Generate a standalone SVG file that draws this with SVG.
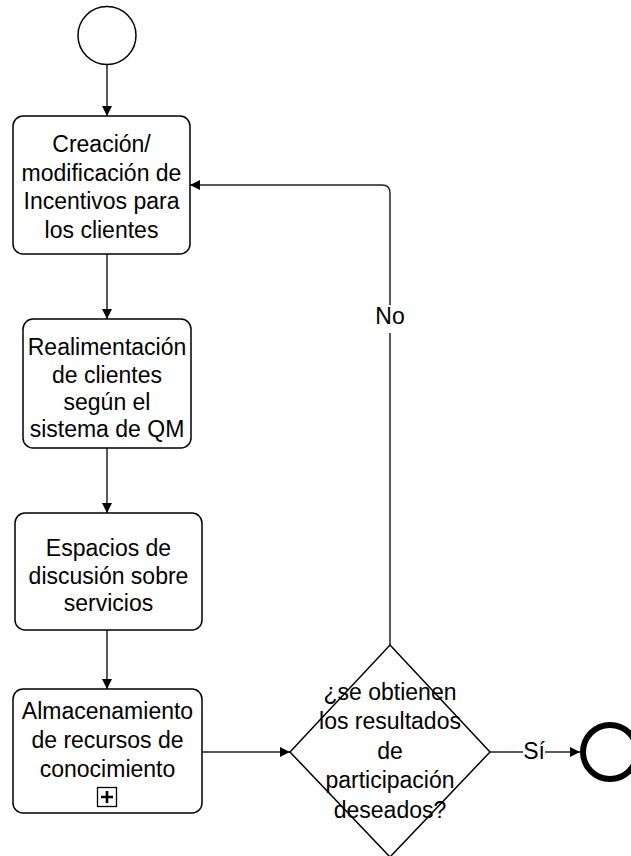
<svg xmlns="http://www.w3.org/2000/svg" width="631" height="856" viewBox="0 0 631 856">
<style>
  .box{fill:#fff;stroke:#000;stroke-width:1.5}
  .t{font-family:"Liberation Sans",Arial,sans-serif;font-size:23px;fill:#000;text-anchor:middle}
  .c{fill:none;stroke:#222;stroke-width:1.5}
  .bg{fill:#fff;stroke:none}
</style>
<defs>
  <marker id="arr" markerUnits="userSpaceOnUse" markerWidth="10" markerHeight="10" refX="10" refY="5" orient="auto">
    <path d="M0,0 L10,5 L0,10 z" fill="#000"/>
  </marker>
</defs>
<rect width="631" height="856" fill="#fff"/>
<g id="connectors">
  <line class="c" x1="107" y1="65" x2="107" y2="116" marker-end="url(#arr)"/>
  <line class="c" x1="107" y1="254" x2="107" y2="319" marker-end="url(#arr)"/>
  <line class="c" x1="107" y1="448" x2="107" y2="513" marker-end="url(#arr)"/>
  <line class="c" x1="107" y1="630" x2="107" y2="689" marker-end="url(#arr)"/>
  <line class="c" x1="202" y1="752" x2="290" y2="752" marker-end="url(#arr)"/>
  <line class="c" x1="490" y1="752" x2="580" y2="752" marker-end="url(#arr)"/>
  <path class="c" d="M390,645 V193 Q390,185 382,185 H190" marker-end="url(#arr)"/>
  <rect class="bg" x="375" y="305" width="30" height="28"/>
  <text class="t" x="390" y="324">No</text>
  <rect class="bg" x="523" y="740" width="22" height="24"/>
  <text class="t" x="534" y="759">Sí</text>
</g>
<g id="start">
  <circle cx="107" cy="35.5" r="29" fill="#fff" stroke="#000" stroke-width="1.5"/>
</g>
<g id="task1">
  <rect class="box" x="13" y="116" width="177" height="138" rx="10"/>
  <text class="t" x="101.5" y="152">Creación/</text>
  <text class="t" x="101.5" y="181">modificación de</text>
  <text class="t" x="101.5" y="209">Incentivos para</text>
  <text class="t" x="101.5" y="238">los clientes</text>
</g>
<g id="task2">
  <rect class="box" x="23" y="319" width="168" height="129" rx="10"/>
  <text class="t" x="107" y="355">Realimentación</text>
  <text class="t" x="107" y="383">de clientes</text>
  <text class="t" x="107" y="410">según el</text>
  <text class="t" x="107" y="437">sistema de QM</text>
</g>
<g id="task3">
  <rect class="box" x="15" y="513" width="187" height="117" rx="10"/>
  <text class="t" x="108.5" y="556">Espacios de</text>
  <text class="t" x="108.5" y="584">discusión sobre</text>
  <text class="t" x="108.5" y="611">servicios</text>
</g>
<g id="task4">
  <rect class="box" x="13" y="689" width="189" height="124" rx="10"/>
  <text class="t" x="107.5" y="719">Almacenamiento</text>
  <text class="t" x="107.5" y="748">de recursos de</text>
  <text class="t" x="107.5" y="777">conocimiento</text>
  <rect x="97.5" y="787.5" width="19" height="19" fill="#fff" stroke="#000" stroke-width="1.3"/>
  <path d="M101,797 H113 M107,791 V803" stroke="#000" stroke-width="2.6"/>
</g>
<g id="gateway">
  <polygon points="390,645 490,752 390,857 290,752" fill="none" stroke="#000" stroke-width="1.5"/>
  <text class="t" x="390" y="700">¿se obtienen</text>
  <text class="t" x="390" y="729">los resultados</text>
  <text class="t" x="390" y="759">de</text>
  <text class="t" x="390" y="788">participación</text>
  <text class="t" x="390" y="818">deseados?</text>
</g>
<g id="end">
  <circle cx="610" cy="752" r="27" fill="#fff" stroke="#000" stroke-width="6"/>
</g>
</svg>
